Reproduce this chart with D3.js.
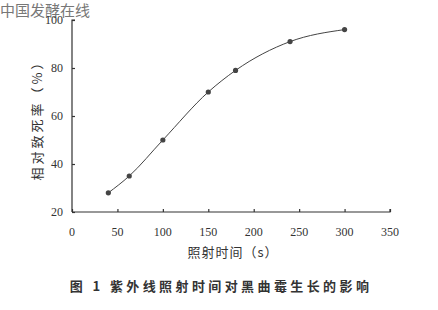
<!DOCTYPE html>
<html>
<head>
<meta charset="utf-8">
<script src="https://cdn.jsdelivr.net/npm/d3@7"></script>
<style>
  body { margin: 0; background: #fff; }
  svg text { fill: #333; }
</style>
</head>
<body>
<svg id="chart" width="438" height="310"></svg>
<script>
// irradiation time (s) and relative lethality (%)
const times = [40, 63, 100, 150, 180, 240, 300];
const lethality = [28, 35, 50, 70, 79, 91, 96];
const xTicks = [0, 50, 100, 150, 200, 250, 300, 350];
const yTicks = [20, 40, 60, 80, 100];

const svg = d3.select("#chart");
const x = d3.scaleLinear().domain([0, 350]).range([72, 390]);
const y = d3.scaleLinear().domain([20, 100]).range([212, 20]);

// watermark
svg.append("text")
  .attr("x", 0).attr("y", 16)
  .style("font-family", "Noto Sans CJK SC").style("font-size", "15px")
  .style("fill", "#777")
  .text("中国发酵在线");

const tickFont = "Liberation Serif";

const xAxis = svg.append("g")
  .attr("transform", "translate(0,212)")
  .call(d3.axisTop(x).tickValues(xTicks).tickSize(3).tickFormat(""));
xAxis.select(".domain").attr("d", "M72,0H390V-3");
xAxis.selectAll("line, path").attr("stroke", "#333").attr("stroke-width", 1.2);

svg.append("g").selectAll("text")
  .data(xTicks).join("text")
  .attr("x", d => x(d)).attr("y", 236)
  .attr("text-anchor", "middle")
  .style("font-family", tickFont).style("font-size", "12px")
  .text(d => d);

const yAxis = svg.append("g")
  .attr("transform", "translate(72,0)")
  .call(d3.axisRight(y).tickValues(yTicks).tickSize(3).tickFormat(""));
yAxis.select(".domain").attr("d", "M3,20H0V212");
yAxis.selectAll("line, path").attr("stroke", "#333").attr("stroke-width", 1.2);

svg.append("g").selectAll("text")
  .data(yTicks).join("text")
  .attr("x", 63).attr("y", d => y(d) + 4)
  .attr("text-anchor", "end")
  .style("font-family", tickFont).style("font-size", "12px")
  .text(d => d);

// curve
const pts = times.map((t, i) => [t, lethality[i]]);
svg.append("path")
  .datum(pts)
  .attr("fill", "none").attr("stroke", "#444").attr("stroke-width", 1)
  .attr("d", d3.line().x(d => x(d[0])).y(d => y(d[1])).curve(d3.curveMonotoneX));

svg.append("g").selectAll("circle")
  .data(pts).join("circle")
  .attr("cx", d => x(d[0])).attr("cy", d => y(d[1]))
  .attr("r", 2.6).attr("fill", "#444");

// axis titles
svg.append("text")
  .attr("transform", "translate(42,117) rotate(-90)")
  .attr("text-anchor", "middle")
  .style("font-family", "Noto Sans CJK SC").style("font-size", "13px")
  .style("letter-spacing", "3px")
  .text("相对致死率（%）");

svg.append("text")
  .attr("x", 233).attr("y", 257)
  .attr("text-anchor", "middle")
  .style("font-family", "Noto Sans CJK SC").style("font-size", "13px")
  .style("letter-spacing", "1px")
  .text("照射时间（s）");

// caption
svg.append("text")
  .attr("x", 221).attr("y", 291)
  .attr("text-anchor", "middle")
  .style("font-family", "Noto Sans CJK SC").style("font-size", "13px")
  .style("font-weight", "bold").style("letter-spacing", "3.4px")
  .text("图 1 紫外线照射时间对黑曲霉生长的影响");
</script>
</body>
</html>
